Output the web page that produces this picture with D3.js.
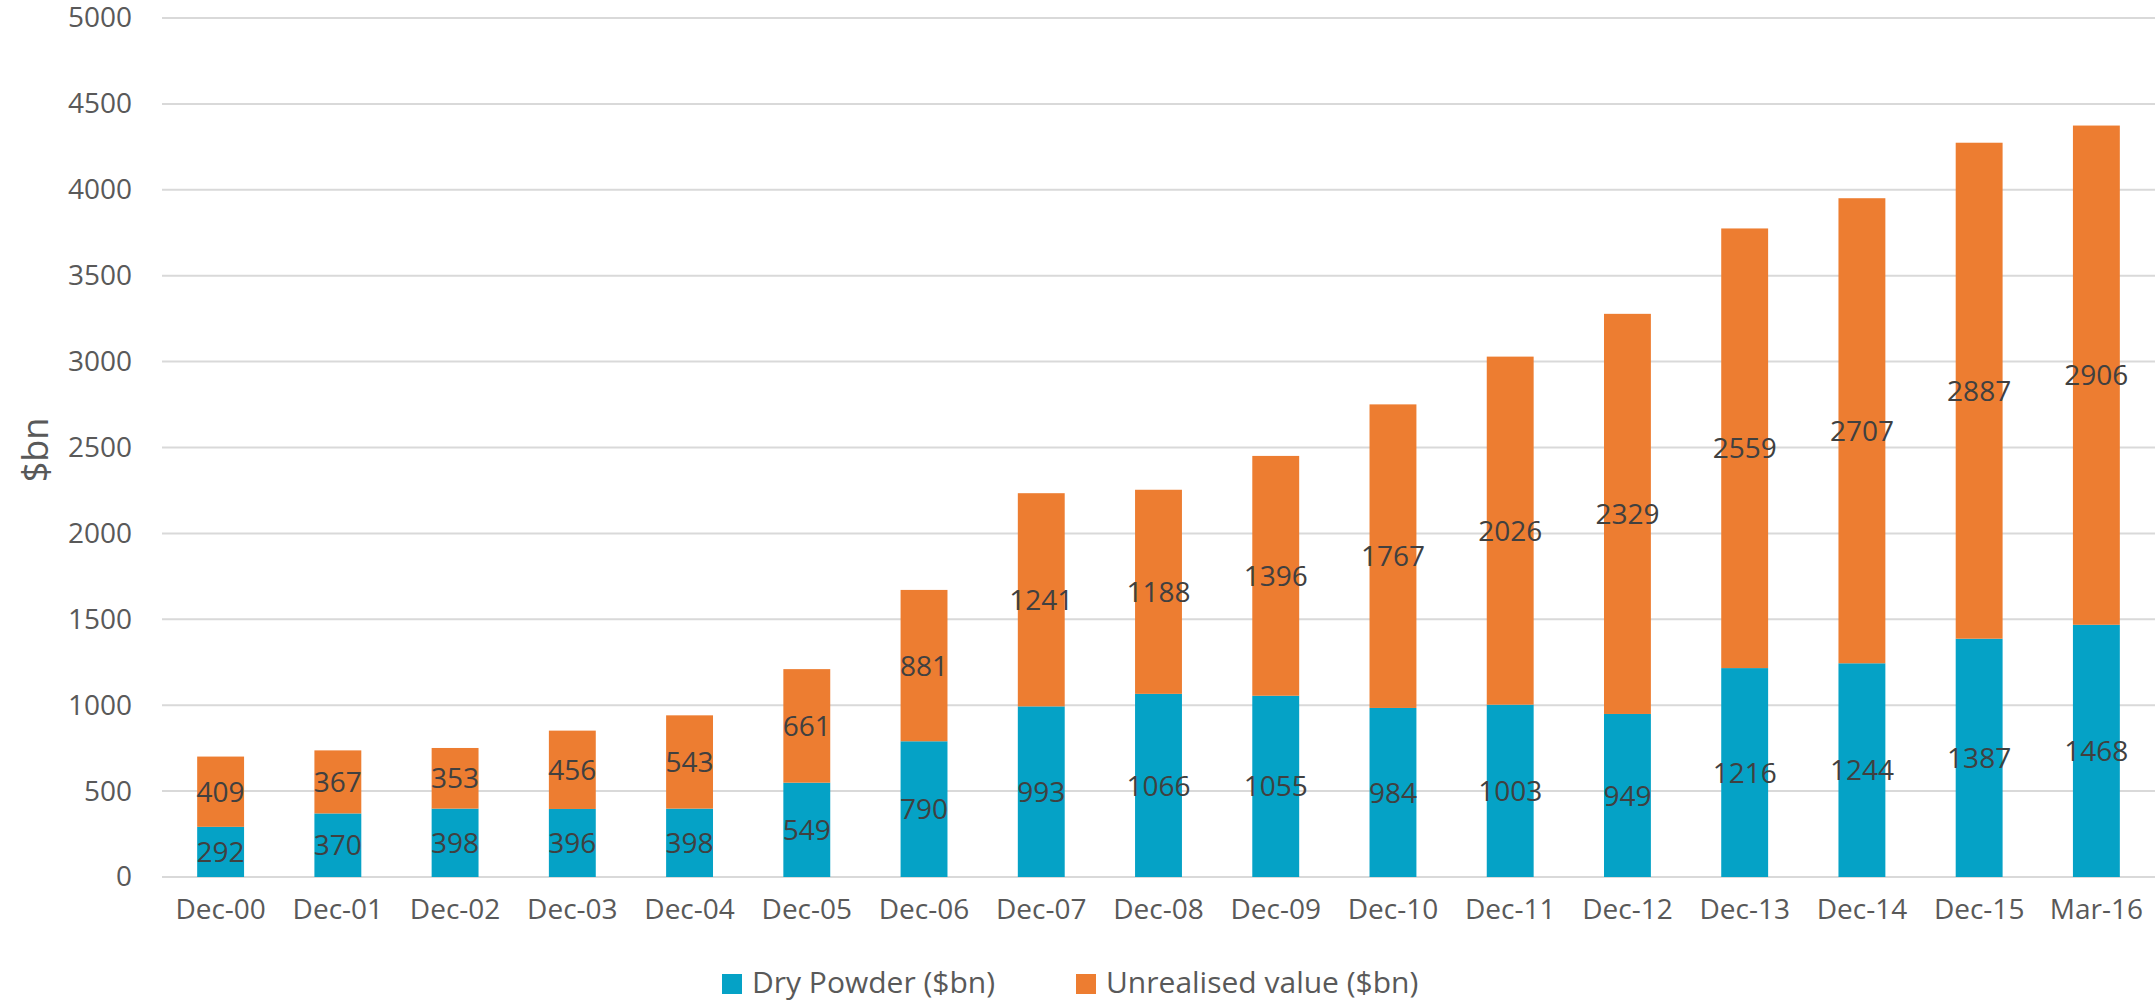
<!DOCTYPE html>
<html>
<head>
<meta charset="utf-8">
<script src="https://cdn.jsdelivr.net/npm/d3@7"></script>
<style>
  html, body { margin: 0; padding: 0; background: #ffffff; }
  svg { display: block; font-family: "Open Sans", "Noto Sans", sans-serif; }
</style>
</head>
<body>
<svg id="chart" width="2155" height="1001"></svg>
<script>
// Periods on the horizontal axis
const periods = ["Dec-00","Dec-01","Dec-02","Dec-03","Dec-04","Dec-05","Dec-06","Dec-07","Dec-08","Dec-09","Dec-10","Dec-11","Dec-12","Dec-13","Dec-14","Dec-15","Mar-16"];
// Dry powder, $bn
const dryPowder = [292,370,398,396,398,549,790,993,1066,1055,984,1003,949,1216,1244,1387,1468];
// Unrealised value, $bn
const unrealised = [409,367,353,456,543,661,881,1241,1188,1396,1767,2026,2329,2559,2707,2887,2906];
// Value axis ticks
const yTicks = [0,500,1000,1500,2000,2500,3000,3500,4000,4500,5000];
const seriesNames = ["Dry Powder ($bn)", "Unrealised value ($bn)"];
const seriesColors = ["#05a2c6", "#ed7d31"];

const svg = d3.select("#chart");
const plotLeft = 162, plotRight = 2155, plotTop = 18, plotBottom = 877;

const x = d3.scaleBand().domain(periods).range([plotLeft, plotRight])
  .paddingInner(0.6).paddingOuter(0.3);
const y = d3.scaleLinear().domain([0, 5000]).range([plotBottom, plotTop]);

// Gridlines
svg.append("g").selectAll("line").data(yTicks).join("line")
  .attr("x1", plotLeft).attr("x2", plotRight)
  .attr("y1", d => y(d)).attr("y2", d => y(d))
  .attr("stroke", "#d9d9d9").attr("stroke-width", 2);

// Value axis labels
const yAxis = d3.axisLeft(y).tickValues(yTicks).tickFormat(d3.format("d"))
  .tickSize(0).tickPadding(30);
const gy = svg.append("g").attr("transform", `translate(${plotLeft},0)`).call(yAxis);
gy.select(".domain").remove();
gy.selectAll("text").attr("font-size", 28).attr("fill", "#595959")
  .attr("font-family", "Open Sans, sans-serif");

// Category axis labels
const xAxis = d3.axisBottom(x).tickSize(0).tickPadding(22);
const gx = svg.append("g").attr("transform", `translate(0,${plotBottom})`).call(xAxis);
gx.select(".domain").remove();
gx.selectAll("text").attr("font-size", 28).attr("fill", "#595959")
  .attr("font-family", "Open Sans, sans-serif");

// Stacked series
const rows = periods.map((p, i) => ({ period: p, dry: dryPowder[i], unreal: unrealised[i] }));
const stack = d3.stack().keys(["dry", "unreal"]);
const layers = stack(rows);

const gBars = svg.append("g");
layers.forEach((layer, li) => {
  gBars.append("g").selectAll("rect").data(layer).join("rect")
    .attr("x", d => x(d.data.period))
    .attr("width", x.bandwidth())
    .attr("y", d => y(d[1]))
    .attr("height", d => y(d[0]) - y(d[1]))
    .attr("fill", seriesColors[li]);
});

// Value labels centred in each segment
layers.forEach((layer) => {
  svg.append("g").selectAll("text").data(layer).join("text")
    .attr("x", d => x(d.data.period) + x.bandwidth() / 2)
    .attr("y", d => y((d[0] + d[1]) / 2))
    .attr("dy", "0.36em")
    .attr("text-anchor", "middle")
    .attr("font-size", 28)
    .attr("fill", "#404040")
    .text(d => d[1] - d[0]);
});

// Axis title
svg.append("text")
  .attr("transform", "translate(48,450) rotate(-90)")
  .attr("text-anchor", "middle")
  .attr("font-size", 36)
  .attr("fill", "#595959")
  .text("$bn");

// Legend
const legendItems = [
  { name: seriesNames[0], color: seriesColors[0], sx: 722 },
  { name: seriesNames[1], color: seriesColors[1], sx: 1076 }
];
const lg = svg.append("g");
legendItems.forEach(it => {
  lg.append("rect").attr("x", it.sx).attr("y", 974).attr("width", 20).attr("height", 20)
    .attr("fill", it.color);
  lg.append("text").attr("x", it.sx + 30).attr("y", 993)
    .attr("font-size", 30).attr("fill", "#595959")
    .text(it.name);
});
</script>
</body>
</html>
